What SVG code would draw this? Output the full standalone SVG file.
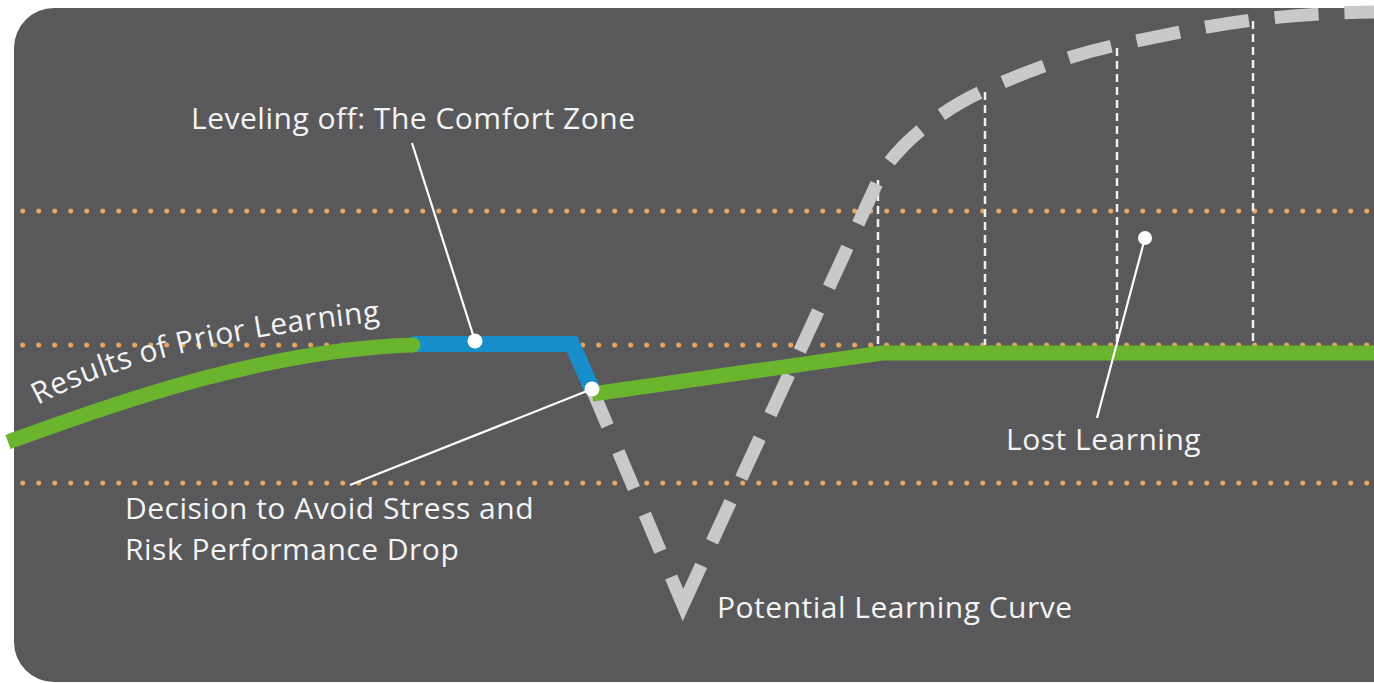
<svg xmlns="http://www.w3.org/2000/svg" width="1374" height="683" viewBox="0 0 1374 683">
  <defs>
    <style>
      .lbl { font-family: "Open Sans", "Noto Sans", "DejaVu Sans", sans-serif; font-size: 30px; letter-spacing: 0.5px; fill: #f4f4f4; }
      .dots { stroke: #e2a965; stroke-width: 5; stroke-linecap: round; stroke-dasharray: 0 16; fill: none; }
      .vdash { stroke: #f0f0f0; stroke-width: 2.5; stroke-dasharray: 8 5; fill: none; }
      .green { stroke: #6bb52e; stroke-width: 15; fill: none; }
      .lead { stroke: #ffffff; stroke-width: 2.2; fill: none; }
      .dot { fill: #ffffff; }
    </style>
    <path id="priorPath" d="M38,405 Q150,344 385,321" fill="none"/>
  </defs>
  <rect x="0" y="0" width="1374" height="683" fill="#ffffff"/>
  <rect id="panel" x="14" y="8" width="1400" height="674" rx="40" ry="40" fill="#59595b"/>

  <g id="grid">
    <line class="dots" x1="22.7" y1="211" x2="1374" y2="211"/>
    <line class="dots" x1="22.7" y1="345" x2="1374" y2="345"/>
    <line class="dots" x1="22.7" y1="483" x2="1374" y2="483"/>
    <line class="vdash" x1="878" y1="180" x2="878" y2="345"/>
    <line class="vdash" x1="985" y1="92" x2="985" y2="345"/>
    <line class="vdash" x1="1117" y1="48" x2="1117" y2="345"/>
    <line class="vdash" x1="1253" y1="21" x2="1253" y2="345"/>
  </g>

  <g id="connectors">
    <path id="potential-curve" d="M592,389 L683,605 L882,172 C905,138 945,108 985,90 C1025,72 1070,55 1117,45 C1160,36 1205,26 1253,20 C1295,15 1340,12 1390,12" fill="none" stroke="#c9c9c9" stroke-width="13" stroke-linejoin="miter" stroke-miterlimit="10" stroke-dasharray="40 28 40 28 40 28 74 26 44 26 44 26 44 26 44 26 44 26 44 26 44 26 44 26 44 26 44 26 44 26 44 26 44 26 44 26 44 26 44 26 44 26 44 26 44 26 44 26 44 26"/>
    <path id="actual-after" class="green" d="M592,394 L882,353 L1380,353"/>
    <path id="comfort-zone" d="M412,344 L572,344 L592,389" fill="none" stroke="#178ec9" stroke-width="16" stroke-linejoin="miter"/>
    <path id="prior-learning" class="green" d="M8,442 C112,405 260,350 413,345"/>
    <circle cx="413" cy="345" r="7.5" fill="#6bb52e"/>
    <line class="lead" x1="412" y1="143" x2="475" y2="341"/>
    <line class="lead" x1="592" y1="389" x2="350" y2="485"/>
    <line class="lead" x1="1145" y1="238" x2="1097" y2="418"/>
  </g>

  <g id="node-comfort">
    <circle class="dot" cx="475" cy="341" r="7.5"/>
    <text class="lbl" x="191" y="129">Leveling off: The Comfort Zone</text>
  </g>
  <g id="node-decision">
    <circle class="dot" cx="592" cy="389" r="7.5"/>
    <text class="lbl" x="125" y="519">Decision to Avoid Stress and</text>
    <text class="lbl" x="125" y="560">Risk Performance Drop</text>
  </g>
  <g id="node-lost">
    <circle class="dot" cx="1145" cy="238" r="7"/>
    <text class="lbl" x="1006" y="450">Lost Learning</text>
  </g>
  <g id="node-potential">
    <text class="lbl" x="717" y="618">Potential Learning Curve</text>
  </g>
  <g id="node-prior">
    <text class="lbl"><textPath href="#priorPath">Results of Prior Learning</textPath></text>
  </g>
</svg>
